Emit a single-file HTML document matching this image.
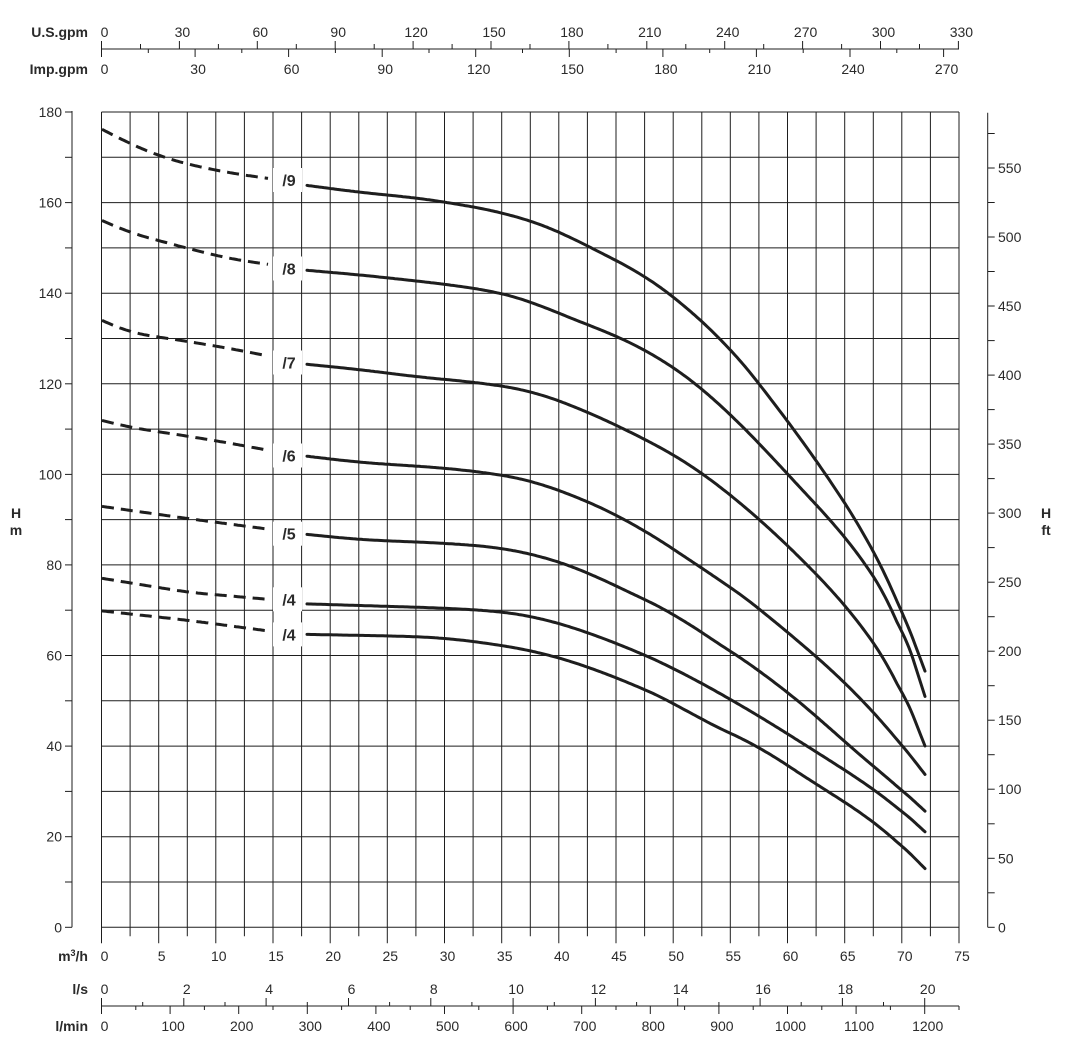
<!DOCTYPE html>
<html><head><meta charset="utf-8"><style>
html,body{margin:0;padding:0;background:#fff;}
svg{display:block;}
text{font-family:"Liberation Sans",Arial,sans-serif;fill:#2a2a2a;}
.b{font-weight:bold;}
</style></head><body>
<svg id="s" width="1065" height="1037" viewBox="0 0 1065 1037" xmlns="http://www.w3.org/2000/svg"></svg>
<script>
var s=document.getElementById('s');var out='';
var X0=101.5,X1=959,Y0=927.3,YT=112;
var kx=(X1-X0)/75, ky=(Y0-YT)/180;
function L(x1,y1,x2,y2,w){out+='<line x1="'+x1.toFixed(1)+'" y1="'+y1.toFixed(1)+'" x2="'+x2.toFixed(1)+'" y2="'+y2.toFixed(1)+'" stroke="#1e1e1e" stroke-width="'+(w||1)+'"/>';}
function T(x,y,t,a,c,fs){out+='<text x="'+x.toFixed(1)+'" y="'+y.toFixed(1)+'" font-size="'+(fs||14)+'" text-anchor="'+(a||'middle')+'"'+(c?' class="'+c+'"':'')+'>'+t+'</text>';}
for(var i=0;i<=30;i++){var x=X0+i*2.5*kx;L(x,YT,x,Y0+(i%2==0?16:9));}
for(var j=0;j<=18;j++){var y=Y0-j*10*ky;L(X0,y,X1,y);}
for(var i=0;i<=15;i++){T(X0+i*5*kx+3,961,i*5);}
L(72,111,72,Y0);
for(var j=0;j<=18;j++){var y=Y0-j*10*ky;L(65,y,72,y);if(j%2==0)T(62,y+5,j*10,'end');}
T(16,518,'H','middle','b',14);T(16,535,'m','middle','b',14);
var XR=987.7;L(XR,112.7,XR,Y0);
for(var f=0;f<=575;f+=25){var y=Y0-f*0.3048*ky;L(XR,y,XR+7,y);if(f%50==0)T(998,y+5,f,'start');}
T(1046,518,'H','middle','b',14);T(1046,535,'ft','middle','b',14);
L(X0,49,X1,49);
var ug=kx/4.403, ig=kx/3.666;
for(var g=0;g<=330;g+=15){var x=X0+g*ug;L(x,49,x,g%30==0?41:44);if(g%30==0)T(x+3,37,g);}
for(var g=0;g<=285;g+=15){var x=X0+g*ig;if(x>X1+1)break;L(x,49,x,g%30==0?57:53);if(g%30==0)T(x+3,74,g);}
T(88,37,'U.S.gpm','end','b',14);T(88,74,'Imp.gpm','end','b',14);
T(88,961,'m<tspan font-size="9" dy="-5">3</tspan><tspan dy="5">/h</tspan>','end','b',14);
L(X0,1006,X1,1006);
var ls=kx*3.6, lm=kx*0.06;
for(var q=0;q<=20;q++){var x=X0+q*ls;L(x,1006,x,q%2==0?998:1002);if(q%2==0)T(x+3,994,q);}
for(var m=0;m<=1250;m+=50){var x=X0+m*lm;L(x,1006,x,m%100==0?1014:1010);if(m%100==0)T(x+3,1031,m);}
T(88,994,'l/s','end','b',14);T(88,1031,'l/min','end','b',14);
function interp(p,x){for(var i=0;i<p.length-1;i++){if(x<=p[i+1][0]){var t=(x-p[i][0])/(p[i+1][0]-p[i][0]);return p[i][1]+t*(p[i+1][1]-p[i][1]);}}return p[p.length-1][1];}
function smooth(p,R){var xa=p[0][0],xb=p[p.length-1][0],xs=[],ys=[];for(var x=xa;x<=xb+0.01;x+=2){xs.push(x);ys.push(interp(p,x));}
 var n=ys.length,r=[],d='';
 for(var i=0;i<n;i++){var w=Math.min(R,i,n-1-i),sm=0;for(var k=-w;k<=w;k++)sm+=ys[i+k];r.push(sm/(2*w+1));}
 for(var i=0;i<n;i++)d+=(i?' L':'M')+xs[i].toFixed(1)+','+r[i].toFixed(1);return d;}
var C=[
{l:'/9',ly:180,d:[[102,129.3],[129,143.3],[158,155.6],[188,164.4],[230,173],[268,178.4]],
 s:[[307,185.4],[360,192.4],[415,197.7],[445,202],[500,211.7],[531,221.2],[558,230.3],[587,246.4],[617,260.2],[645,276.3],[675,296.9],[700,319.9],[730,347.4],[760,384.2],[787,420.9],[815,457.6],[845,503.5],[872,544.9],[900,604.5],[925,671.1]]},
{l:'/8',ly:268.5,d:[[102,220.5],[130,232.8],[188,248.5],[230,258.8],[268,264.3]],
 s:[[307,270.3],[360,274.9],[415,280.8],[455,285.4],[500,292.5],[531,301.5],[558,313],[587,324.5],[617,336],[645,349.7],[675,368.1],[700,386.5],[730,414],[760,443.8],[787,473.7],[815,503.5],[845,535.7],[872,572.4],[900,618.3],[925,696.4]]},
{l:'/7',ly:362.5,d:[[102,320.4],[130,332.7],[188,341.5],[230,348.5],[268,356]],
 s:[[307,364.3],[360,369.6],[415,376.6],[470,381.8],[500,385.5],[531,391],[558,400.2],[587,411.7],[617,425.5],[645,439.3],[675,455.3],[700,471.4],[730,494.4],[760,519.6],[787,544.9],[815,572.4],[845,604.5],[872,639],[900,682.6],[925,746]]},
{l:'/6',ly:455.5,d:[[102,420.4],[130,427.4],[188,436.2],[230,443.2],[268,450.2]],
 s:[[307,456.2],[360,462.5],[415,466],[450,468.5],[500,474.5],[531,480.6],[558,489.8],[587,501.2],[617,515],[645,531.1],[675,549.4],[700,567.8],[730,586.2],[760,609.1],[787,632.1],[815,655],[845,682.6],[872,710.1],[900,742.3],[925,774.4]]},
{l:'/5',ly:533.7,d:[[102,506.4],[188,518.6],[268,529.1]],
 s:[[307,534.4],[360,539.7],[445,543.2],[475,545.5],[500,547.5],[531,554],[558,561],[587,572.4],[617,586.2],[645,600],[675,613.7],[700,632.1],[730,650.5],[760,671.1],[787,691.8],[815,714.7],[845,742.3],[872,765.2],[900,788.2],[925,811.1]]},
{l:'/4',ly:599.3,d:[[102,578.3],[188,592.3],[268,599.3]],
 s:[[307,603.9],[445,608.1],[500,611.4],[531,616],[558,622.9],[587,632.1],[617,643.6],[645,655],[675,668.8],[700,682.6],[730,698.7],[760,717],[787,733.1],[815,751.5],[845,769.8],[872,788.2],[900,808.9],[925,831.8]]},
{l:'/4',ly:634.4,d:[[102,610.9],[188,620.3],[268,630.9]],
 s:[[307,634.4],[400,636.1],[445,637.9],[500,645],[531,650.5],[558,657.3],[587,666.5],[617,678],[645,689.5],[675,703.3],[700,719.3],[730,733.1],[760,746.9],[787,765.2],[815,783.6],[845,802],[872,820.3],[900,843.3],[925,868.6]]}
];
C.forEach(function(c){
 out+='<path d="'+smooth(c.d,10)+'" fill="none" stroke="#1e1e1e" stroke-width="3" stroke-dasharray="12,7"/>';
 out+='<path d="'+smooth(c.s,14)+'" fill="none" stroke="#1e1e1e" stroke-width="3" stroke-linecap="round"/>';
 out+='<rect x="273" y="'+(c.ly-12)+'" width="29" height="24" fill="#fff"/>';
 T(289,c.ly+6,c.l,'middle','b',16);
});
s.innerHTML=out;
</script>
</body></html>
